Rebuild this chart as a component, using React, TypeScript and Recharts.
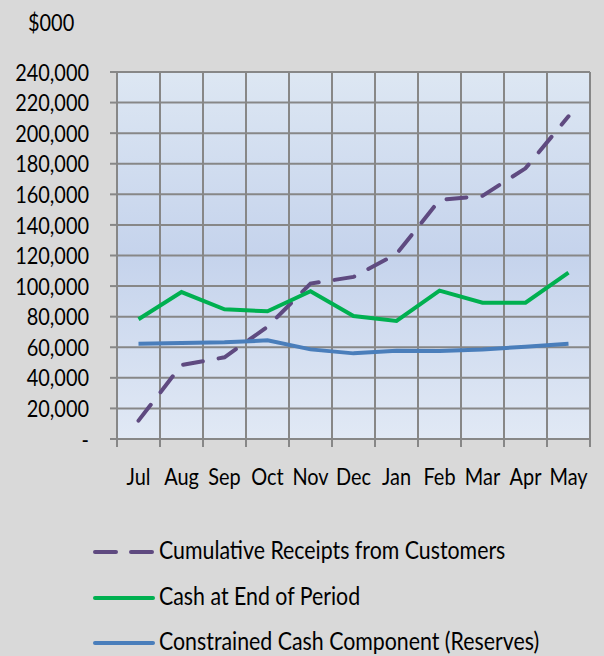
import React from 'react';
import { LineChart, Line, XAxis, YAxis, CartesianGrid } from 'recharts';

const months = ['Jul', 'Aug', 'Sep', 'Oct', 'Nov', 'Dec', 'Jan', 'Feb', 'Mar', 'Apr', 'May'];
const receipts = [12000, 48400, 53400, 73400, 101600, 106000, 121000, 156300, 159000, 177000, 211000];
const cashEnd = [78300, 96100, 84800, 83500, 96600, 80400, 77200, 97000, 89100, 89100, 108800];
const reserves = [62300, 62800, 63200, 64500, 58600, 56000, 57700, 57500, 58600, 60400, 62300];
const yTicks = [0, 20000, 40000, 60000, 80000, 100000, 120000, 140000, 160000, 180000, 200000, 220000, 240000];
const yMinorTicks = [10000, 30000, 50000, 70000, 90000, 110000, 130000, 150000, 170000, 190000, 210000, 230000];

const seriesNames = ['Cumulative Receipts from Customers', 'Cash at End of Period', 'Constrained Cash Component (Reserves)'];
const seriesKeys = ['receipts', 'cashEnd', 'reserves'] as const;

const data = months.map((m, i) => ({
  x: i + 0.5,
  month: m,
  receipts: receipts[i],
  cashEnd: cashEnd[i],
  reserves: reserves[i],
}));

const centerTicks = months.map((_, i) => i + 0.5);
const boundaryTicks = [...months.map((_, i) => i), months.length];

const FONT = 'Lato, "Open Sans", sans-serif';
const FS = 24;
const LEG_FS = 25.7;
const SX = 0.83;
const GRID = '#878787';
const COLORS = { receipts: '#5f4a80', cashEnd: '#00b050', reserves: '#4a7ebb' };

const fmt = (v: number) => (v === 0 ? '-' : v.toLocaleString('en-US'));

const YTick = (props: any) => {
  const { x, y, payload } = props;
  return (
    <text transform={`translate(${x},${y}) scale(${SX},1)`} textAnchor="end" dy="0.36em"
      fontSize={FS} fontFamily={FONT} fill="#000">{fmt(payload.value)}</text>
  );
};

const XTick = (props: any) => {
  const { x, y, payload } = props;
  return (
    <text transform={`translate(${x},${y}) scale(${SX},1)`} textAnchor="middle" dy="0.71em"
      fontSize={FS} fontFamily={FONT} fill="#000">{months[Math.round(payload.value - 0.5)]}</text>
  );
};

const squeeze: React.CSSProperties = { display: 'inline-block', transform: `scaleX(${SX})`, transformOrigin: 'left center', whiteSpace: 'nowrap' };

export default function App() {
  return (
    <div style={{ position: 'absolute', left: 0, top: 0, width: 604, height: 656, background: '#d9d9d9', fontFamily: FONT, overflow: 'hidden' }}>
      <div style={{ position: 'absolute', left: 28, top: 7, fontSize: FS, color: '#000' }}><span style={squeeze}>$000</span></div>
      <LineChart width={604} height={656} data={data} margin={{ top: 72, right: 14, bottom: 168, left: 0 }}>
        <defs>
          <linearGradient id="plotBg" x1="0" y1="0" x2="0" y2="1">
            <stop offset="0%" stopColor="#dde7f3" />
            <stop offset="50%" stopColor="#c5d3ec" />
            <stop offset="100%" stopColor="#e1e9f5" />
          </linearGradient>
        </defs>
        <XAxis xAxisId="b" dataKey="x" type="number" domain={[0, months.length]} ticks={boundaryTicks}
          tickFormatter={() => ''} tickSize={8} axisLine={false} tickLine={{ stroke: GRID, strokeWidth: 2 }} height={1} />
        <XAxis xAxisId="m" dataKey="x" type="number" domain={[0, months.length]} ticks={centerTicks}
          tickLine={false} axisLine={false} tickSize={0} tickMargin={28} height={48} interval={0}
          tick={<XTick />} />
        <YAxis yAxisId="l" type="number" domain={[0, 240000]} ticks={yTicks} width={117}
          tickSize={7} tickMargin={21} interval={0} axisLine={{ stroke: GRID, strokeWidth: 2 }}
          tickLine={{ stroke: GRID, strokeWidth: 2 }} tick={<YTick />} />
        <YAxis yAxisId="minor" type="number" domain={[0, 240000]} ticks={yMinorTicks} tickFormatter={() => ''}
          width={0} mirror tickSize={5} axisLine={false} interval={0} tickLine={{ stroke: GRID, strokeWidth: 2 }} />
        <CartesianGrid xAxisId="b" yAxisId="l" stroke={GRID} strokeWidth={2} fill="url(#plotBg)" fillOpacity={1} />
        <Line xAxisId="m" yAxisId="l" dataKey="receipts" name={seriesNames[0]} stroke={COLORS.receipts} strokeWidth={4}
          strokeDasharray="20 16" strokeLinecap="round" dot={false} isAnimationActive={false} />
        <Line xAxisId="m" yAxisId="l" dataKey="cashEnd" name={seriesNames[1]} stroke={COLORS.cashEnd} strokeWidth={4}
          dot={false} isAnimationActive={false} />
        <Line xAxisId="m" yAxisId="l" dataKey="reserves" name={seriesNames[2]} stroke={COLORS.reserves} strokeWidth={4}
          dot={false} isAnimationActive={false} />
      </LineChart>
      {seriesNames.map((name, i) => {
        const key = seriesKeys[i];
        return (
          <div key={name} style={{ position: 'absolute', left: 93, top: 541 + i * 45.5, height: 22, display: 'flex', alignItems: 'center', fontSize: LEG_FS, lineHeight: '22px', color: '#000', whiteSpace: 'nowrap' }}>
            <svg width={62} height={8} style={{ marginRight: 4 }}>
              <line x1={2} y1={4} x2={60} y2={4} stroke={COLORS[key]} strokeWidth={4} strokeLinecap="round"
                strokeDasharray={i === 0 ? '21 15' : undefined} />
            </svg>
            <span style={{ ...squeeze, height: 22, position: 'relative', top: -3 }}>{name}</span>
          </div>
        );
      })}
    </div>
  );
}
